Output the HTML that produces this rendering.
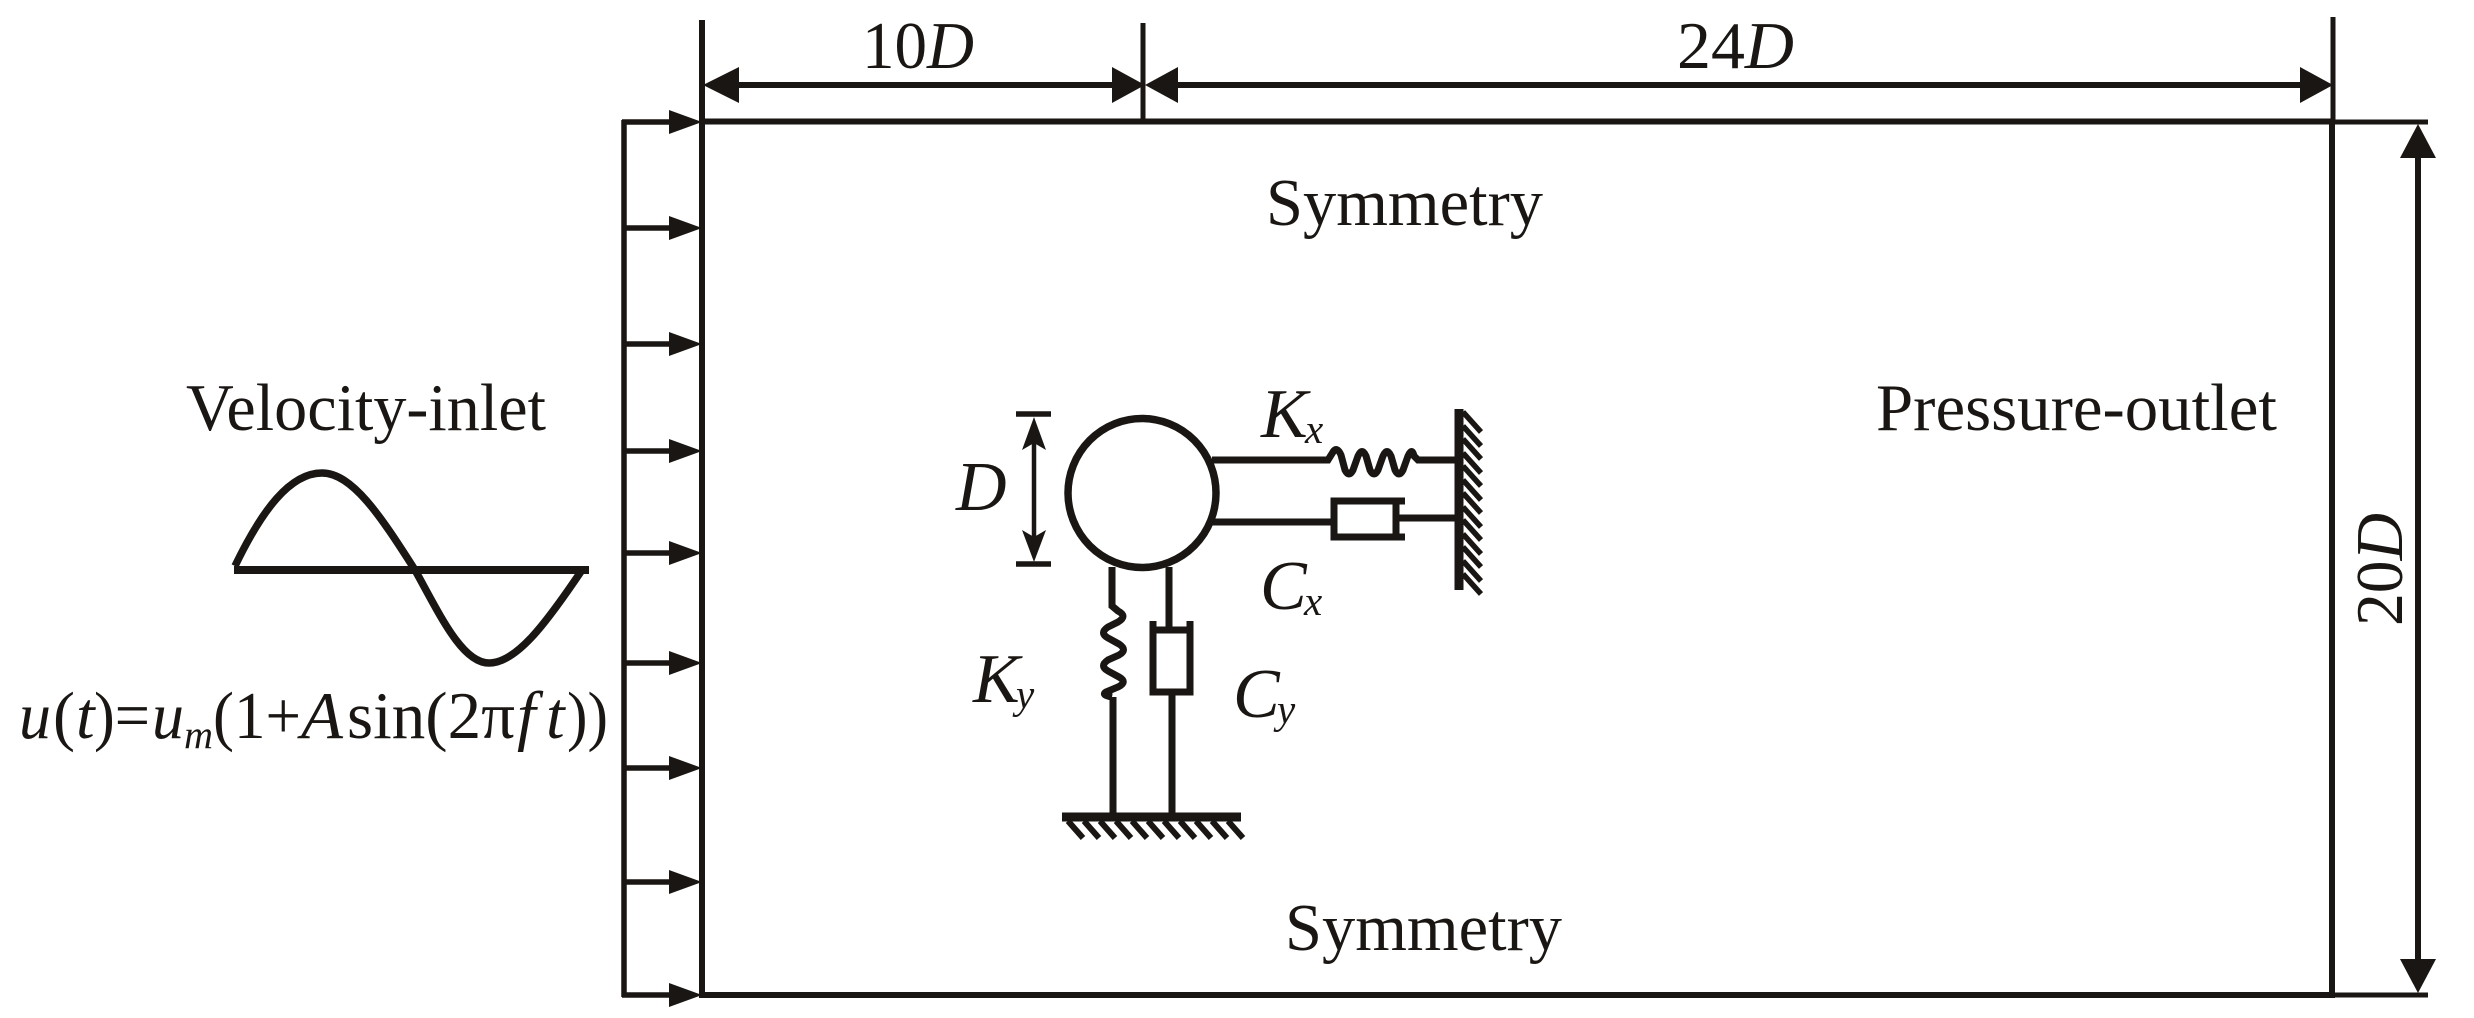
<!DOCTYPE html>
<html><head><meta charset="utf-8"><style>
html,body{margin:0;padding:0;background:#fff;width:2474px;height:1018px;overflow:hidden}
svg{display:block}
text{font-family:"Liberation Serif",serif;fill:#1a1613;font-size:67px}
.i{font-style:italic}
.b{font-size:70px}
.s{font-size:41px}
</style></head><body>
<svg width="2474" height="1018" viewBox="0 0 2474 1018" xmlns="http://www.w3.org/2000/svg">
<rect width="2474" height="1018" fill="#fff"/>
<g stroke="#1a1613" fill="none" stroke-width="5">
<!-- domain -->
<path d="M702 20V998" stroke-width="6"/>
<path d="M699 121.500H2333" stroke-width="6"/>
<path d="M699 995H2333" stroke-width="6"/>
<path d="M2332 120V998" stroke-width="6"/>
<path d="M2333 17V122"/>
<path d="M1143 23V121"/>
<path d="M2333 122H2428M2333 995H2428"/>
<path d="M624 120V997" stroke-width="5.500"/>
<!-- dims -->
<path d="M730 85H1120M1170 85H2305" stroke-width="6"/>
<path d="M2418 150V965" stroke-width="6"/>
<!-- inlet stems -->
<path d="M622 122H675M622 228H675M622 344H675M622 451H675M622 553H675M622 663H675M622 768H675M622 882H675M622 995H675" stroke-width="5.500"/>
<!-- sine -->
<path d="M234 570H589" stroke-width="8"/>
<path d="M235 566C262 510 290 473 322 473C352 473 380 515 415 570C440 615 462 663 489 663C516 663 545 625 582 570" stroke-width="7.500"/>
<!-- cylinder -->
<ellipse cx="1142" cy="493" rx="74" ry="74.500" stroke-width="7.500"/>
<!-- D dim -->
<path d="M1016 414H1051M1016 564H1051" stroke-width="5.500"/>
<path d="M1034 440V540" stroke-width="4.500"/>
<!-- Kx -->
<path d="M1212 460H1328L1333 452Q1337 446 1341 455L1345 470Q1349 478 1353 470L1358 456Q1362 447 1366 456L1370 470Q1374 478 1378 470L1383 456Q1387 447 1391 456L1395 470Q1399 478 1403 470L1408 456Q1412 447 1414 456L1418 460H1455" stroke-width="7"/>
<!-- Cx -->
<path d="M1212 522H1334" stroke-width="7"/>
<path d="M1405 501H1334V537H1405" stroke-width="7"/>
<path d="M1396 501V537" stroke-width="7"/>
<path d="M1396 518H1456" stroke-width="7"/>
<!-- Wall -->
<path d="M1468 409V590" stroke-width="0"/>
<path d="M1459 409V590" stroke-width="9"/>
<path d="M1463 412L1481 432M1463 426L1481 446M1463 439L1481 459M1463 453L1481 473M1463 466L1481 486M1463 480L1481 500M1463 493L1481 513M1463 507L1481 527M1463 520L1481 540M1463 534L1481 554M1463 547L1481 567M1463 561L1481 581M1463 574L1481 594" stroke-width="5.500"/>
<!-- Ky -->
<path d="M1112 567V606L1118 611Q1128 616 1118 622L1108 627Q1099 633 1108 638L1119 644Q1128 650 1119 655L1108 660Q1099 666 1108 671L1119 677Q1128 682 1118 687L1106 692Q1101 695 1112 697" stroke-width="7"/>
<path d="M1113 697V814" stroke-width="7"/>
<!-- Cy -->
<path d="M1169 567V630" stroke-width="7"/>
<path d="M1153 621V692H1190V621" stroke-width="7"/>
<path d="M1153 630H1190" stroke-width="7"/>
<path d="M1172 692V814" stroke-width="7"/>
<!-- ground -->
<path d="M1062 817H1241" stroke-width="9"/>
<path d="M1068 821L1083 838M1084 821L1099 838M1100 821L1115 838M1116 821L1131 838M1132 821L1147 838M1148 821L1163 838M1164 821L1179 838M1180 821L1195 838M1196 821L1211 838M1212 821L1227 838M1228 821L1243 838" stroke-width="6"/>
</g>
<g fill="#1a1613" stroke="none">
<path d="M703 85L739 67V103Z"/>
<path d="M1145 85L1112 67V103Z"/>
<path d="M1145 85L1178 67V103Z"/>
<path d="M2333 85L2300 67V103Z"/>
<path d="M2418 124L2400 158H2436Z"/>
<path d="M2418 993L2400 959H2436Z"/>
<path d="M702 122L669 110V134Z"/>
<path d="M702 228L669 216V240Z"/>
<path d="M702 344L669 332V356Z"/>
<path d="M702 451L669 439V463Z"/>
<path d="M702 553L669 541V565Z"/>
<path d="M702 663L669 651V675Z"/>
<path d="M702 768L669 756V780Z"/>
<path d="M702 882L669 870V894Z"/>
<path d="M702 995L669 983V1007Z"/>
<path d="M1034 417L1022 450L1034 443L1046 450Z"/>
<path d="M1034 562L1022 530L1034 537L1046 530Z"/>
</g>
<!-- labels -->
<text x="862" y="68" textLength="112" lengthAdjust="spacingAndGlyphs">10<tspan class="i">D</tspan></text>
<text x="1677" y="68" textLength="117" lengthAdjust="spacingAndGlyphs">24<tspan class="i">D</tspan></text>
<text x="1266" y="225" textLength="277" lengthAdjust="spacingAndGlyphs">Symmetry</text>
<text x="1285" y="950" textLength="277" lengthAdjust="spacingAndGlyphs">Symmetry</text>
<text x="1876" y="430" textLength="401" lengthAdjust="spacingAndGlyphs">Pressure-outlet</text>
<text x="186" y="430" textLength="360" lengthAdjust="spacingAndGlyphs">Velocity-inlet</text>
<text transform="translate(2402 626) rotate(-90)" textLength="113" lengthAdjust="spacingAndGlyphs">20<tspan class="i">D</tspan></text>
<text class="i b" x="956" y="510">D</text>
<text class="i b" x="1261" y="437">K</text><text class="i s" x="1305" y="443">x</text>
<text class="i b" x="1260" y="609">C</text><text class="i s" x="1304" y="615">x</text>
<text class="i b" x="973" y="702">K</text><text class="i s" x="1016" y="708">y</text>
<text class="i b" x="1233" y="717">C</text><text class="i s" x="1277" y="723">y</text>
<!-- formula -->
<text class="i" x="19" y="738" textLength="32" lengthAdjust="spacingAndGlyphs">u</text>
<text x="53" y="738" textLength="22" lengthAdjust="spacingAndGlyphs">(</text>
<text class="i" x="76" y="738">t</text>
<text x="94" y="738" textLength="56" lengthAdjust="spacingAndGlyphs">)=</text>
<text class="i" x="152" y="738" textLength="32" lengthAdjust="spacingAndGlyphs">u</text>
<text class="i" x="184" y="748" style="font-size:40px" textLength="29" lengthAdjust="spacingAndGlyphs">m</text>
<text x="213" y="738" textLength="88" lengthAdjust="spacingAndGlyphs">(1+</text>
<text class="i" x="301" y="738" textLength="42" lengthAdjust="spacingAndGlyphs">A</text>
<text x="347" y="738" textLength="168" lengthAdjust="spacingAndGlyphs">sin(2π</text>
<text class="i" x="517" y="738">f</text>
<text class="i" x="546" y="738">t</text>
<text x="567" y="738" textLength="41" lengthAdjust="spacingAndGlyphs">))</text>
</svg>
</body></html>
